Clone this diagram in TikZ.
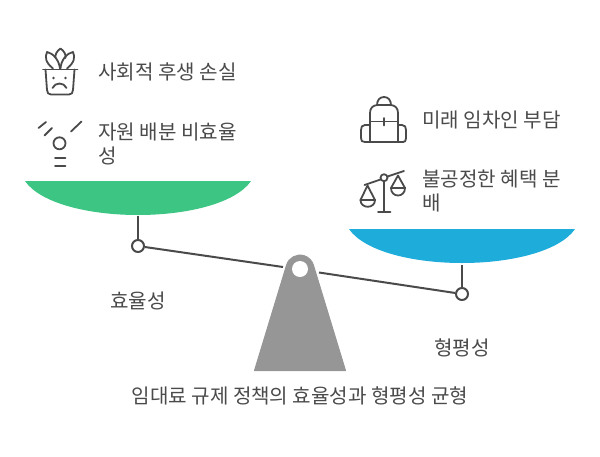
\documentclass[tikz,border=0pt]{standalone}
\usepackage{fontspec}
\setmainfont{Noto Sans CJK KR}
\definecolor{ink}{HTML}{4A4A4A}
\definecolor{grn}{HTML}{3CC583}
\definecolor{blu}{HTML}{1EACDB}
\definecolor{gry}{HTML}{969696}
\tikzset{
  x=1pt,y=-1pt,
  lbl/.style={font=\fontsize{20.1}{24}\selectfont,text=ink,inner sep=0pt,align=left},
  pivot/.style={circle,draw=ink,line width=2pt,fill=white,minimum size=12pt,inner sep=0pt},
  conn/.style={draw=ink,line width=2pt},
  icon/.style={draw=ink,line width=1.8pt,line cap=round,line join=round,fill=none},
}
\begin{document}
\begin{tikzpicture}
\useasboundingbox (0,0) rectangle (600,456);
% pans
\fill[grn] (25,181) -- (251,181) .. controls (236,203) and (188,215) .. (138,215) .. controls (88,215) and (40,203) .. (25,181) -- cycle;
\fill[blu] (349,229) -- (575,229) .. controls (560,251) and (512,263) .. (462,263) .. controls (412,263) and (364,251) .. (349,229) -- cycle;
% beam
\node[pivot] (pl) at (138,246) {};
\node[pivot] (pr) at (462,294) {};
\coordinate (bl) at (283,267);
\coordinate (br) at (319,272.5);
\coordinate (sl) at (138,216);
\coordinate (sr) at (462,265);
\draw[conn] (sl) -- (pl);
\draw[conn] (sr) -- (pr);
\draw[conn] (pl) -- (bl);
\draw[conn] (br) -- (pr);
% fulcrum
\fill[gry,line join=round,draw=gry,line width=1pt] (254.5,370.5) -- (286.6,265) arc[start angle=197,end angle=343,radius=14] -- (345.5,370.5) -- cycle;
\fill[white] (300,269) circle[radius=8];
% labels
\node[lbl,anchor=west] (t1) at (98,72) {사회적 후생 손실};
\node[lbl,anchor=north west] (t2) at (98,123) {자원 배분 비효율\\성};
\node[lbl,anchor=west] (t3) at (422,120) {미래 임차인 부담};
\node[lbl,anchor=north west] (t4) at (422,170) {불공정한 혜택 분\\배};
\node[lbl,anchor=center] (t5) at (138,300.5) {효율성};
\node[lbl,anchor=center] (t6) at (462,347.5) {형평성};
\node[lbl,anchor=center] (t7) at (300,396) {임대료 규제 정책의 효율성과 형평성 균형};
% plant icon
\begin{scope}[icon]
\draw (43,69.5) -- (77.5,69.5);
\draw (45.5,69.5) -- (47,90) .. controls (47.2,93) and (48.5,94.5) .. (51,94.5) -- (69,94.5) .. controls (71.5,94.5) and (72.8,93) .. (73,90) -- (74.5,69.5);
\draw (53,68.5) .. controls (45,62) and (45,57) .. (47,52) .. controls (53,53) and (59,60) .. (60,68.5);
\draw (55.5,58) .. controls (55,54) and (57,51) .. (60.5,48.5) .. controls (64,51) and (66,54) .. (65.5,58);
\draw (60.5,68.5) .. controls (61,60) and (67,53) .. (73,52) .. controls (75,57) and (75,62) .. (67,68.5);
\fill[ink,draw=none] (53.5,78) circle[radius=1.3];
\fill[ink,draw=none] (65.5,78) circle[radius=1.3];
\draw (52.5,88) .. controls (55,82) and (64,82) .. (66.5,88);
\end{scope}
% falling star icon
\begin{scope}[icon]
\draw (38.5,128) -- (46,122);
\draw (44.5,135.5) -- (52,128);
\draw (71,131.5) -- (81.5,121.5);
\draw (59.5,143.3) circle[radius=6];
\draw (55,158.3) -- (65.5,158.3);
\draw (55,165.7) -- (65.5,165.7);
\end{scope}
% backpack icon
\begin{scope}[icon]
\draw (370,142) -- (370,113) .. controls (370,108) and (373,105) .. (378,105) -- (390,105) .. controls (395,105) and (398,108) .. (398,113) -- (398,142);
\draw (377,105) .. controls (377,100) and (380,97) .. (384,97) .. controls (388,97) and (391,100) .. (391,105);
\draw (370,121.5) -- (398,121.5);
\draw (384,118) -- (384,125.5);
\draw (365,142) -- (403,142);
\draw (370,125) -- (365,125) .. controls (362,125) and (361,127) .. (361,130) -- (361,138) .. controls (361,141) and (362,142) .. (365,142);
\draw (398,125) -- (402,125) .. controls (405,125) and (406,127) .. (406,130) -- (406,138) .. controls (406,141) and (405,142) .. (403,142);
\end{scope}
% scales icon
\begin{scope}[icon]
\draw (384,181) -- (384,212);
\draw (378,212) -- (390.5,212);
\draw (364.5,185) -- (380.5,179.5);
\draw (387.5,176.5) -- (404,171);
\draw (384,177.7) circle[radius=3.5];
\draw (367.5,185.5) -- (360.5,200) -- (375,200) -- cycle;
\draw (360.5,200) .. controls (360.5,209) and (375,209) .. (375,200);
\draw (398,175.5) -- (391,188) -- (405,188) -- cycle;
\draw (391,188) .. controls (391,198) and (405,198) .. (405,188);
\end{scope}
\end{tikzpicture}
\end{document}
